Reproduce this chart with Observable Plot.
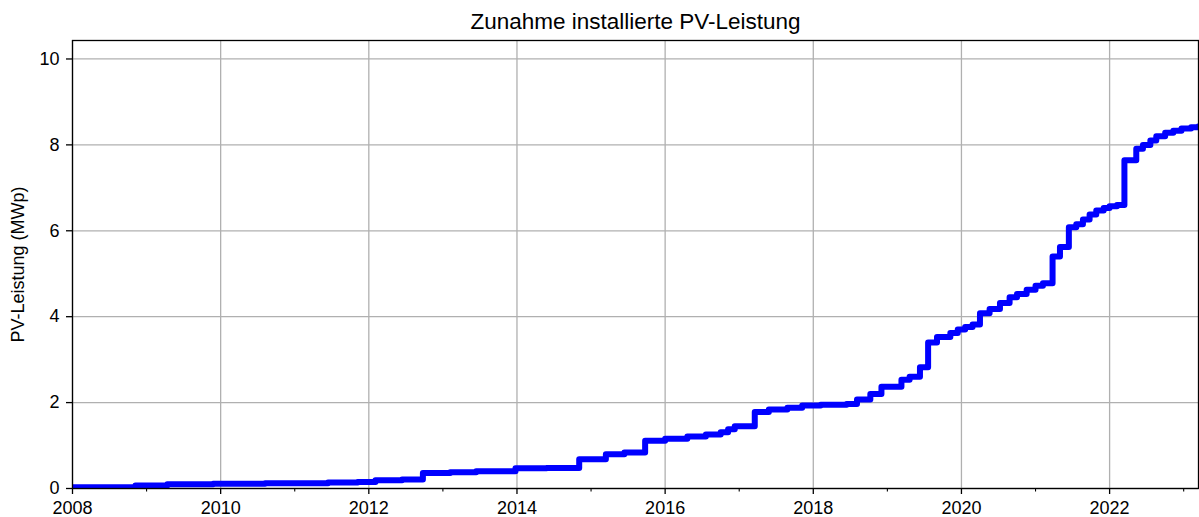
<!DOCTYPE html>
<html>
<head>
<meta charset="utf-8">
<script src="https://cdn.jsdelivr.net/npm/d3@7"></script>
<script src="https://cdn.jsdelivr.net/npm/@observablehq/plot@0.6"></script>
<style>
  html, body { margin: 0; padding: 0; background: #fff; }
  #chart svg { display: block; }
</style>
</head>
<body>
<div id="chart"></div>
<script>
const titleText = "Zunahme installierte PV-Leistung";
const yLabel = "PV-Leistung (MWp)";

// step dates (decimal years) and cumulative installed PV power (MWp)
const years = [
  2008.00, 2008.85, 2009.28, 2009.90, 2010.60, 2011.45, 2011.85, 2012.09, 2012.45, 2012.73,
  2013.10, 2013.45, 2013.98, 2014.40, 2014.84, 2015.20, 2015.45, 2015.73, 2016.00, 2016.30,
  2016.55, 2016.75, 2016.85, 2016.94, 2017.21, 2017.40, 2017.65, 2017.85, 2018.10, 2018.45,
  2018.59, 2018.77, 2018.92, 2019.19, 2019.30, 2019.44, 2019.55, 2019.67, 2019.85, 2019.95,
  2020.05, 2020.15, 2020.25, 2020.38, 2020.52, 2020.65, 2020.75, 2020.88, 2021.00, 2021.10,
  2021.23, 2021.33, 2021.45, 2021.55, 2021.64, 2021.73, 2021.82, 2021.92, 2022.00, 2022.10,
  2022.20, 2022.36, 2022.45, 2022.55, 2022.63, 2022.75, 2022.86, 2022.97, 2023.10, 2023.20
];
const power = [
  0.03, 0.07, 0.10, 0.11, 0.12, 0.14, 0.15, 0.19, 0.21, 0.36,
  0.38, 0.40, 0.47, 0.48, 0.68, 0.80, 0.84, 1.11, 1.16, 1.21,
  1.26, 1.31, 1.38, 1.45, 1.78, 1.84, 1.88, 1.93, 1.95, 1.97,
  2.07, 2.20, 2.37, 2.53, 2.60, 2.82, 3.40, 3.53, 3.62, 3.70,
  3.76, 3.82, 4.08, 4.18, 4.32, 4.45, 4.53, 4.63, 4.72, 4.78,
  5.40, 5.62, 6.08, 6.15, 6.26, 6.38, 6.47, 6.53, 6.57, 6.60,
  7.64, 7.91, 8.00, 8.10, 8.20, 8.28, 8.33, 8.38, 8.41, 8.43
];

const xTicks = [2008, 2010, 2012, 2014, 2016, 2018, 2020, 2022];
const xMinorTicks = [2009, 2011, 2013, 2015, 2017, 2019, 2021, 2023];
const yTicks = [0, 2, 4, 6, 8, 10];

const data = years.map((x, i) => ({x, y: power[i]}));

const chart = Plot.plot({
  width: 1199,
  height: 517,
  marginLeft: 72,
  marginRight: 1,
  marginTop: 40,
  marginBottom: 29,
  style: {fontFamily: "'Liberation Sans', Arial, sans-serif", fontSize: "18px", color: "#000", background: "#fff"},
  x: {type: "linear", domain: [2008, 2023.2]},
  y: {domain: [0, 10.43]},
  marks: [
    Plot.gridX(xTicks, {stroke: "#b0b0b0", strokeOpacity: 1, strokeWidth: 1.3}),
    Plot.gridY(yTicks, {stroke: "#b0b0b0", strokeOpacity: 1, strokeWidth: 1.3}),
    Plot.line(data, {x: "x", y: "y", curve: "step-after", stroke: "#0000ff", strokeWidth: 6, strokeLinejoin: "round", strokeLinecap: "round", clip: true}),
    Plot.frame({stroke: "#000", strokeWidth: 1.3}),
    Plot.axisX(xTicks, {tickSize: 6, tickPadding: 7, tickFormat: d => String(d), fontSize: 18, label: null, strokeWidth: 1.3}),
    Plot.axisX(xMinorTicks, {tickSize: 3.5, tickFormat: () => "", label: null, strokeWidth: 1.1}),
    Plot.axisY(yTicks, {tickSize: 6, tickPadding: 7, fontSize: 18, label: null, strokeWidth: 1.3}),
    Plot.text([yLabel], {text: d => d, frameAnchor: "left", textAnchor: "middle", rotate: -90, dx: -54, fontSize: 18, fill: "#000"}),
    Plot.text([titleText], {text: d => d, frameAnchor: "top", dy: -27, fontSize: 22.5, fill: "#000"})
  ]
});
document.getElementById("chart").appendChild(chart);
</script>
</body>
</html>
